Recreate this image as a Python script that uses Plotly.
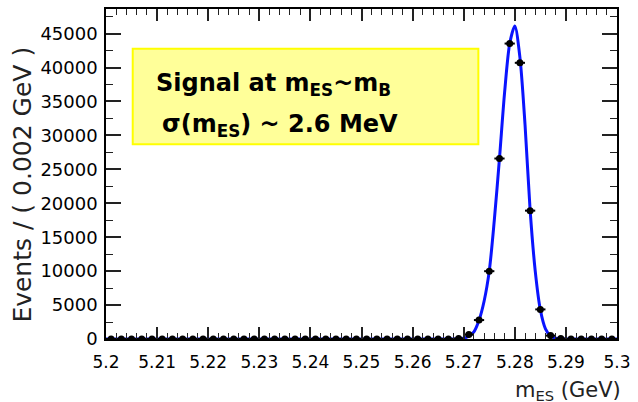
import plotly.graph_objects as go

# ---- data ----
bin_centers = [5.201, 5.203, 5.205, 5.207, 5.209, 5.211, 5.213, 5.215, 5.217, 5.219,
               5.221, 5.223, 5.225, 5.227, 5.229, 5.231, 5.233, 5.235, 5.237, 5.239,
               5.241, 5.243, 5.245, 5.247, 5.249, 5.251, 5.253, 5.255, 5.257, 5.259,
               5.261, 5.263, 5.265, 5.267, 5.269, 5.271, 5.273, 5.275, 5.277, 5.279,
               5.281, 5.283, 5.285, 5.287, 5.289, 5.291, 5.293, 5.295, 5.297, 5.299]
events = [0, 0, 0, 0, 0, 0, 0, 0, 0, 0,
          0, 0, 0, 0, 0, 0, 0, 0, 0, 0,
          0, 0, 0, 0, 0, 0, 0, 0, 0, 0,
          0, 0, 0, 0, 60, 650, 2790, 9990, 26590, 43530,
          40690, 18910, 4360, 500, 60, 0, 0, 0, 0, 0]

fit_x = [5.200, 5.266, 5.268, 5.269, 5.270, 5.271, 5.272, 5.273, 5.274, 5.275,
         5.276, 5.277, 5.278, 5.279, 5.280, 5.281, 5.282, 5.283, 5.284, 5.285,
         5.286, 5.287, 5.288, 5.289, 5.291, 5.300]
fit_y = [0, 0, 10, 40, 130, 400, 1050, 2750, 5600, 10000,
         17600, 26600, 36300, 43500, 46100, 41500, 31600, 19000, 10000, 4300,
         1500, 450, 110, 20, 0, 0]

x_title = "m<sub>ES</sub> (GeV)"
y_title = "Events / ( 0.002 GeV )"
box_line1 = "Signal at m<sub>ES</sub>~m<sub>B</sub>"
box_line2 = "σ(m<sub>ES</sub>) ~ 2.6 MeV"

fig = go.Figure()
fig.add_trace(go.Scatter(x=fit_x, y=fit_y, mode="lines",
                         line=dict(color="#0a14ff", width=3, shape="spline", smoothing=0.8),
                         hoverinfo="skip", showlegend=False))
fig.add_trace(go.Scatter(x=bin_centers, y=events, mode="markers",
                         marker=dict(color="black", size=7),
                         error_x=dict(type="constant", value=0.001, color="black",
                                      thickness=2, width=0),
                         showlegend=False))

axis_font = dict(family="DejaVu Sans", size=17, color="black")
fig.update_layout(
    width=638, height=402, autosize=False,
    margin=dict(l=106, r=16, t=7, b=63),
    plot_bgcolor="white", paper_bgcolor="white",
    xaxis=dict(range=[5.2, 5.3], tickmode="linear", tick0=5.2, dtick=0.01,
               ticks="inside", ticklen=12, tickwidth=1.5, tickcolor="#222",
               showline=True, linecolor="black", linewidth=1.5, mirror="allticks",
               showgrid=False, zeroline=False, tickfont=axis_font,
               ticklabelstandoff=7,
               minor=dict(tick0=5.2, dtick=0.002, ticks="inside", ticklen=6,
                          tickwidth=1.2, tickcolor="#222", showgrid=False)),
    yaxis=dict(range=[0, 48620], tickmode="linear", tick0=0, dtick=5000,
               tickformat="d",
               ticks="inside", ticklen=15, tickwidth=1.5, tickcolor="#222",
               showline=True, linecolor="black", linewidth=1.5, mirror="allticks",
               showgrid=False, zeroline=False,
               tickfont=dict(family="DejaVu Sans", size=18, color="black"),
               ticklabelstandoff=3,
               minor=dict(tick0=0, dtick=2500, ticks="inside", ticklen=7,
                          tickwidth=1.2, tickcolor="#222", showgrid=False)),
)

fig.add_shape(type="rect", xref="paper", yref="paper",
              x0=0.0523, x1=0.7287, y0=0.5904, y1=0.8795,
              fillcolor="#ffff99", line=dict(color="#ffff00", width=2), layer="above")

box_font = dict(family="DejaVu Sans", size=24, color="black", weight="bold")
fig.add_annotation(text=box_line1, xref="paper", yref="paper", x=0.093, y=0.771,
                   xanchor="left", yanchor="middle", showarrow=False, font=box_font)
fig.add_annotation(text=box_line2, xref="paper", yref="paper", x=0.105, y=0.6476,
                   xanchor="left", yanchor="middle", showarrow=False, font=box_font)

fig.add_annotation(text=x_title, xref="paper", yref="paper", x=1.012, y=-0.112,
                   xanchor="right", yanchor="top", showarrow=False,
                   font=dict(family="DejaVu Sans", size=21, color="#222"))
fig.add_annotation(text=y_title, xref="paper", yref="paper", x=-0.163, y=0.467,
                   xanchor="center", yanchor="middle", textangle=-90, showarrow=False,
                   font=dict(family="DejaVu Sans", size=25, color="#222"))

fig.write_html("out.html", config={"displayModeBar": False},
               post_script="document.body.style.margin='0px';")
